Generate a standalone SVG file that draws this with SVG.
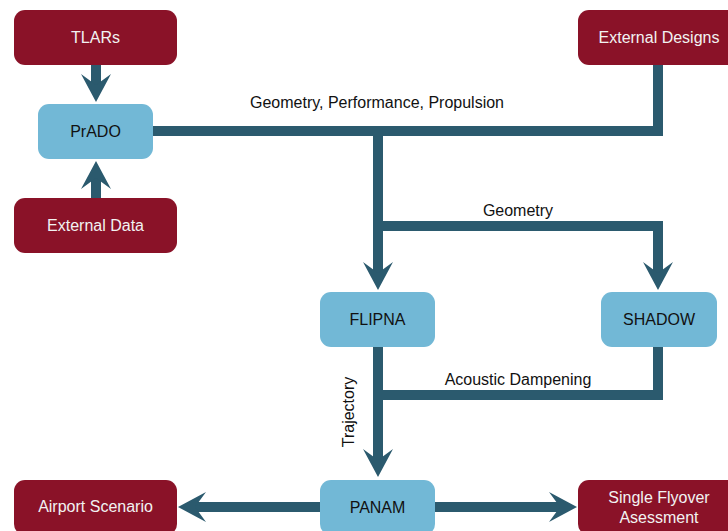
<svg xmlns="http://www.w3.org/2000/svg" width="728" height="531" viewBox="0 0 728 531">
<defs>
<style>
.red{fill:#8A1228}
.blue{fill:#72B8D6}
.lt{font-family:"Liberation Sans",Arial,sans-serif;font-size:16px;fill:#F2F2F2;text-anchor:middle}
.dt{font-family:"Liberation Sans",Arial,sans-serif;font-size:16px;fill:#111111;text-anchor:middle}
.lbl{font-family:"Liberation Sans",Arial,sans-serif;font-size:16px;fill:#111111;text-anchor:middle}
.c{fill:none;stroke:#2B5A6E;stroke-width:10;stroke-linejoin:miter;stroke-linecap:butt}
</style>
<marker id="ah" markerUnits="userSpaceOnUse" orient="auto" refX="0" refY="0" markerWidth="60" markerHeight="60" viewBox="-30 -30 60 60" overflow="visible">
<path d="M17,0 L-11,-15 L0,0 L-11,15 Z" fill="#2B5A6E"/>
</marker>
</defs>
<g id="connectors">
<path class="c" d="M96,65 V85" marker-end="url(#ah)"/>
<path class="c" d="M96,198 V178" marker-end="url(#ah)"/>
<path class="c" d="M153,131 H658 V65"/>
<path class="c" d="M378,131 V273" marker-end="url(#ah)"/>
<path class="c" d="M378,226 H658 V273" marker-end="url(#ah)"/>
<path class="c" d="M658,347 V395 H378"/>
<path class="c" d="M378,347 V460" marker-end="url(#ah)"/>
<path class="c" d="M320,507 H195" marker-end="url(#ah)"/>
<path class="c" d="M435,507 H560" marker-end="url(#ah)"/>
<text class="lbl" x="377" y="108">Geometry, Performance, Propulsion</text>
<text class="lbl" x="518" y="216">Geometry</text>
<text class="lbl" x="518" y="385">Acoustic Dampening</text>
<text class="lbl" transform="translate(354,412) rotate(-90)">Trajectory</text>
</g>
<g id="tlars"><rect class="red" x="14" y="10" width="163" height="55" rx="11"/><text class="lt" x="95.5" y="43">TLARs</text></g>
<g id="prado"><rect class="blue" x="38" y="104" width="115" height="55" rx="11"/><text class="dt" x="95.5" y="137">PrADO</text></g>
<g id="external-data"><rect class="red" x="14" y="198" width="163" height="55" rx="11"/><text class="lt" x="95.5" y="231">External Data</text></g>
<g id="external-designs"><rect class="red" x="578" y="10" width="163" height="55" rx="11"/><text class="lt" x="659" y="43">External Designs</text></g>
<g id="flipna"><rect class="blue" x="320" y="292" width="115" height="55" rx="11"/><text class="dt" x="377.5" y="325">FLIPNA</text></g>
<g id="shadow"><rect class="blue" x="601" y="292" width="116" height="55" rx="11"/><text class="dt" x="659" y="325">SHADOW</text></g>
<g id="panam"><rect class="blue" x="320" y="480" width="115" height="55" rx="11"/><text class="dt" x="377.5" y="513">PANAM</text></g>
<g id="airport-scenario"><rect class="red" x="14" y="480" width="163" height="55" rx="11"/><text class="lt" x="95.5" y="512">Airport Scenario</text></g>
<g id="single-flyover"><rect class="red" x="578" y="480" width="163" height="55" rx="11"/><text class="lt" x="659" y="503">Single Flyover</text><text class="lt" x="659" y="523">Asessment</text></g>
</svg>
